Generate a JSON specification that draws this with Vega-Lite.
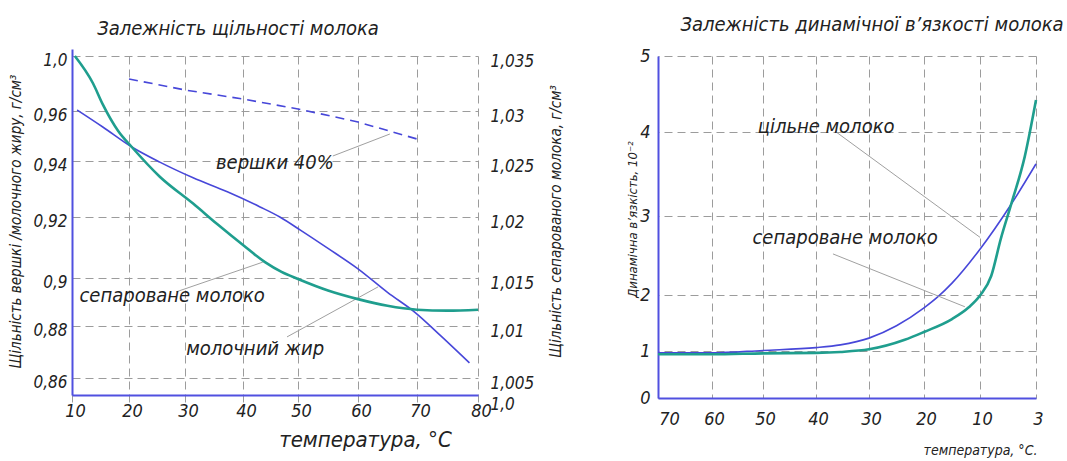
{
  "$schema": "https://vega.github.io/schema/vega-lite/v6.json",
  "background": "white",
  "padding": {"left": 7, "top": 15, "right": 5, "bottom": 5},
  "config": {
    "view": {"stroke": null},
    "font": "DejaVu Sans Condensed, Liberation Sans, sans-serif",
    "text": {"font": "DejaVu Sans Condensed, Liberation Sans, sans-serif", "fontStyle": "italic", "fontSize": 20, "color": "#222"},
    "axis": {
      "labelFont": "DejaVu Sans Condensed, Liberation Sans, sans-serif", "labelFontStyle": "italic", "labelColor": "#222",
      "titleFont": "DejaVu Sans Condensed, Liberation Sans, sans-serif", "titleFontStyle": "italic", "titleFontWeight": "normal", "titleColor": "#222",
      "ticks": false, "labelOverlap": false, "labelFlush": false, "gridColor": "#9c9c9c", "gridDash": [8, 5], "gridWidth": 1,
      "domainColor": "#5050e0", "domainWidth": 2
    },
    "title": {"font": "DejaVu Sans Condensed, Liberation Sans, sans-serif", "fontStyle": "italic", "fontWeight": "normal", "fontSize": 20, "color": "#222"}
  },
  "datasets": {
    "density": [
      {"series": "сепароване молоко", "t": 10.5, "v": 1.035},
      {"series": "сепароване молоко", "t": 13.7, "v": 1.0325},
      {"series": "сепароване молоко", "t": 15.4, "v": 1.0306},
      {"series": "сепароване молоко", "t": 18.1, "v": 1.028},
      {"series": "сепароване молоко", "t": 20.5, "v": 1.0264},
      {"series": "сепароване молоко", "t": 25.5, "v": 1.0236},
      {"series": "сепароване молоко", "t": 31.4, "v": 1.0212},
      {"series": "сепароване молоко", "t": 35.6, "v": 1.0194},
      {"series": "сепароване молоко", "t": 40, "v": 1.0177},
      {"series": "сепароване молоко", "t": 44, "v": 1.0163},
      {"series": "сепароване молоко", "t": 47, "v": 1.0155},
      {"series": "сепароване молоко", "t": 50, "v": 1.0149},
      {"series": "сепароване молоко", "t": 55, "v": 1.0137},
      {"series": "сепароване молоко", "t": 60, "v": 1.0128},
      {"series": "сепароване молоко", "t": 65, "v": 1.0121},
      {"series": "сепароване молоко", "t": 70, "v": 1.0117},
      {"series": "сепароване молоко", "t": 75, "v": 1.0116},
      {"series": "сепароване молоко", "t": 80, "v": 1.0117},
      {"series": "молочний жир", "t": 10.9, "v": 0.9607},
      {"series": "молочний жир", "t": 15.4, "v": 0.9536},
      {"series": "молочний жир", "t": 20.5, "v": 0.9456},
      {"series": "молочний жир", "t": 25.5, "v": 0.9396},
      {"series": "молочний жир", "t": 31.4, "v": 0.934},
      {"series": "молочний жир", "t": 37.3, "v": 0.929},
      {"series": "молочний жир", "t": 43.1, "v": 0.9236},
      {"series": "молочний жир", "t": 46.7, "v": 0.92},
      {"series": "молочний жир", "t": 50.4, "v": 0.9157},
      {"series": "молочний жир", "t": 55, "v": 0.9097},
      {"series": "молочний жир", "t": 60, "v": 0.903},
      {"series": "молочний жир", "t": 65, "v": 0.894},
      {"series": "молочний жир", "t": 69.7, "v": 0.8856},
      {"series": "молочний жир", "t": 74, "v": 0.876},
      {"series": "молочний жир", "t": 78.6, "v": 0.8658},
      {"series": "вершки 40%", "t": 20, "v": 0.9833},
      {"series": "вершки 40%", "t": 30, "v": 0.9753},
      {"series": "вершки 40%", "t": 40, "v": 0.9687},
      {"series": "вершки 40%", "t": 50, "v": 0.9615},
      {"series": "вершки 40%", "t": 60, "v": 0.9556},
      {"series": "вершки 40%", "t": 70, "v": 0.9488}
    ],
    "densityNotes": [
      {"label": "вершки  40%", "t": 45.8, "v": 0.9393},
      {"label": "сепароване молоко", "t": 27.7, "v": 0.8925},
      {"label": "молочний жир", "t": 42.2, "v": 0.8712}
    ],
    "densityLeaders": [
      {"t": 55.8, "v": 0.942, "t2": 65.4, "v2": 0.9508},
      {"t": 28.4, "v": 0.8942, "t2": 43.6, "v2": 0.9052},
      {"t": 48.0, "v": 0.8758, "t2": 63.4, "v2": 0.8963}
    ],
    "viscosity": [
      {"series": "цільне молоко", "t": 70, "v": 0.96},
      {"series": "цільне молоко", "t": 60, "v": 0.96},
      {"series": "цільне молоко", "t": 50, "v": 1.01},
      {"series": "цільне молоко", "t": 40, "v": 1.06},
      {"series": "цільне молоко", "t": 35.4, "v": 1.11},
      {"series": "цільне молоко", "t": 30, "v": 1.23},
      {"series": "цільне молоко", "t": 25, "v": 1.45},
      {"series": "цільне молоко", "t": 20, "v": 1.77},
      {"series": "цільне молоко", "t": 17.5, "v": 1.97},
      {"series": "цільне молоко", "t": 15, "v": 2.15},
      {"series": "цільне молоко", "t": 10, "v": 2.58},
      {"series": "цільне молоко", "t": 6.1, "v": 3.14},
      {"series": "цільне молоко", "t": 3, "v": 3.62},
      {"series": "сепароване молоко", "t": 70, "v": 0.93},
      {"series": "сепароване молоко", "t": 60, "v": 0.93},
      {"series": "сепароване молоко", "t": 50, "v": 0.95},
      {"series": "сепароване молоко", "t": 40, "v": 0.96},
      {"series": "сепароване молоко", "t": 35.4, "v": 0.98},
      {"series": "сепароване молоко", "t": 30, "v": 1.03},
      {"series": "сепароване молоко", "t": 23.5, "v": 1.2},
      {"series": "сепароване молоко", "t": 20, "v": 1.34},
      {"series": "сепароване молоко", "t": 15, "v": 1.57},
      {"series": "сепароване молоко", "t": 12, "v": 1.78},
      {"series": "сепароване молоко", "t": 10, "v": 1.99},
      {"series": "сепароване молоко", "t": 8.6, "v": 2.24},
      {"series": "сепароване молоко", "t": 7.4, "v": 2.71},
      {"series": "сепароване молоко", "t": 6.1, "v": 3.14},
      {"series": "сепароване молоко", "t": 4.4, "v": 3.71},
      {"series": "сепароване молоко", "t": 3, "v": 4.42}
    ],
    "viscosityNotes": [
      {"label": "цільне молоко", "t": 38.1, "v": 4.07},
      {"label": "сепароване молоко", "t": 34.5, "v": 2.72}
    ],
    "viscosityLeaders": [
      {"t": 36.4, "v": 4.01, "t2": 10, "v2": 2.73},
      {"t": 36.8, "v": 2.52, "t2": 12.7, "v2": 1.79}
    ]
  },
  "bounds": "flush",
  "spacing": 180,
  "hconcat": [
    {
      "title": {"text": "Залежність  щільності молока", "anchor": "middle", "dx": -37, "offset": 12},
      "width": 406,
      "height": 339,
      "layer": [
        {
          "layer": [
            {
              "data": {"name": "density"},
              "transform": [{"filter": "datum.series === 'молочний жир'"}],
              "mark": {"type": "line", "interpolate": "monotone", "color": "#4747d9", "strokeWidth": 1.6},
              "encoding": {
                "x": {
                  "field": "t", "type": "quantitative",
                  "scale": {"domain": [10, 20, 30, 40, 50, 60, 70, 80], "range": [0, 57, 113, 171, 226, 286, 345, 406], "nice": false, "zero": false},
                  "axis": {
                    "values": [10, 20, 30, 40, 50, 60, 70, 80], "grid": true,
                    "title": "температура, °C", "titleFontSize": 22, "titleX": 293, "titleY": 44, "titleAlign": "center", "titleBaseline": "middle",
                    "labelFontSize": 18, "labelPadding": 7, "labelOffset": 3
                  }
                },
                "y": {
                  "field": "v", "type": "quantitative",
                  "scale": {"domain": [0.8535, 0.86, 0.88, 0.9, 0.92, 0.94, 0.96, 1.0, 1.0051], "range": [339, 322, 270, 222, 161, 105, 55, 0, -7], "nice": false, "zero": false},
                  "axis": {
                    "orient": "left",
                    "values": [0.86, 0.88, 0.9, 0.92, 0.94, 0.96, 1.0], "grid": true,
                    "labelExpr": "datum.value == 1 ? '1,0' : replace(format(datum.value, '~g'), '.', ',')",
                    "labelFontSize": 17, "labelPadding": 5, "labelOffset": 4,
                    "title": "Щільність вершкі /молочного жиру, г/см³", "titleFontSize": 15,
                    "titleX": -57, "titleY": 165, "titleAngle": 270, "titleAlign": "center", "titleBaseline": "middle"
                  }
                }
              }
            },
            {
              "data": {"name": "density"},
              "transform": [{"filter": "datum.series === 'вершки 40%'"}],
              "mark": {"type": "line", "color": "#4747d9", "strokeWidth": 1.6, "strokeDash": [9, 6]},
              "encoding": {
                "x": {"field": "t", "type": "quantitative"},
                "y": {"field": "v", "type": "quantitative"}
              }
            },
            {
              "data": {"name": "densityLeaders"},
              "mark": {"type": "rule", "color": "#a0a0a0", "strokeWidth": 1},
              "encoding": {
                "x": {"field": "t", "type": "quantitative"},
                "y": {"field": "v", "type": "quantitative"},
                "x2": {"field": "t2"},
                "y2": {"field": "v2"}
              }
            },
            {
              "data": {"name": "densityNotes"},
              "mark": {"type": "text", "align": "center", "baseline": "middle"},
              "encoding": {
                "x": {"field": "t", "type": "quantitative"},
                "y": {"field": "v", "type": "quantitative"},
                "text": {"field": "label"}
              }
            }
          ]
        },
        {
          "data": {"name": "density"},
          "transform": [{"filter": "datum.series === 'сепароване молоко'"}],
          "mark": {"type": "line", "interpolate": "monotone", "color": "#1f9e8e", "strokeWidth": 2.6},
          "encoding": {
            "x": {"field": "t", "type": "quantitative"},
            "y": {
              "field": "v", "type": "quantitative",
              "scale": {"domain": [1.0, 1.005, 1.01, 1.015, 1.02, 1.025, 1.03, 1.035], "range": [339, 322, 270, 222, 161, 105, 55, 0], "nice": false, "zero": false},
              "axis": {
                "orient": "right",
                "values": [1.0, 1.005, 1.01, 1.015, 1.02, 1.025, 1.03, 1.035], "grid": false, "domain": false,
                "labelExpr": "datum.value == 1 ? '1,0' : replace(format(datum.value, '~g'), '.', ',')",
                "labelFontSize": 17, "labelPadding": 12,
                "labelOffset": {"condition": {"test": "datum.value == 1", "value": 9}, "value": 5},
                "title": "Щільність сепарованого молока, г/см³", "titleFontSize": 15,
                "titleX": 77, "titleY": 165, "titleAngle": 270, "titleAlign": "center", "titleBaseline": "middle"
              }
            }
          }
        }
      ],
      "resolve": {"scale": {"y": "independent"}, "axis": {"y": "independent"}}
    },
    {
      "title": {"text": "Залежність динамічної в’язкості молока", "anchor": "middle", "dx": 25, "offset": 12},
      "width": 378,
      "height": 342,
      "layer": [
        {
          "data": {"name": "viscosity"},
          "transform": [{"filter": "datum.series === 'цільне молоко'"}],
          "mark": {"type": "line", "interpolate": "monotone", "color": "#4747d9", "strokeWidth": 1.6},
          "encoding": {
            "x": {
              "field": "t", "type": "quantitative",
              "scale": {"domain": [3, 10, 20, 30, 40, 50, 60, 70], "range": [378, 322, 266, 211, 158, 105, 54, 0], "nice": false, "zero": false},
              "axis": {
                "values": [70, 60, 50, 40, 30, 20, 10, 3], "grid": true,
                "title": "температура, °C.", "titleFontSize": 14, "titleX": 322, "titleY": 52, "titleAlign": "center", "titleBaseline": "middle",
                "labelFontSize": 18, "labelPadding": 12,
                "labelOffset": {"condition": {"test": "datum.value == 70", "value": 11}, "value": 2}
              }
            },
            "y": {
              "field": "v", "type": "quantitative",
              "scale": {"domain": [0, 1, 2, 3, 4, 5], "range": [342, 295, 239, 160, 76, 0], "nice": false, "zero": false},
              "axis": {
                "values": [0, 1, 2, 3, 4, 5], "grid": true,
                "labelExpr": "format(datum.value, 'd')",
                "labelFontSize": 18, "labelPadding": 8,
                "title": "Динамічна в’язкість, 10⁻²", "titleFontSize": 13,
                "titleX": -26, "titleY": 163, "titleAngle": 270, "titleAlign": "center", "titleBaseline": "middle"
              }
            }
          }
        },
        {
          "data": {"name": "viscosity"},
          "transform": [{"filter": "datum.series === 'сепароване молоко'"}],
          "mark": {"type": "line", "interpolate": "monotone", "color": "#1f9e8e", "strokeWidth": 2.6},
          "encoding": {
            "x": {"field": "t", "type": "quantitative"},
            "y": {"field": "v", "type": "quantitative"}
          }
        },
        {
          "data": {"name": "viscosityLeaders"},
          "mark": {"type": "rule", "color": "#a0a0a0", "strokeWidth": 1},
          "encoding": {
            "x": {"field": "t", "type": "quantitative"},
            "y": {"field": "v", "type": "quantitative"},
            "x2": {"field": "t2"},
            "y2": {"field": "v2"}
          }
        },
        {
          "data": {"name": "viscosityNotes"},
          "mark": {"type": "text", "align": "center", "baseline": "middle"},
          "encoding": {
            "x": {"field": "t", "type": "quantitative"},
            "y": {"field": "v", "type": "quantitative"},
            "text": {"field": "label"}
          }
        }
      ]
    }
  ]
}
